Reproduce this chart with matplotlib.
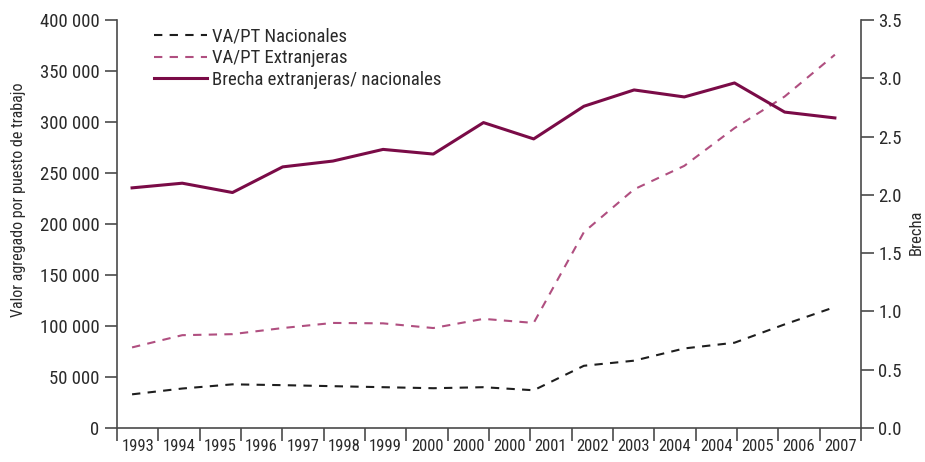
import numpy as np
import matplotlib
matplotlib.use("Agg")
import matplotlib.pyplot as plt
from matplotlib.ticker import FuncFormatter

plt.rcParams['font.family'] = ['Roboto Condensed', 'DejaVu Sans']

# data
years = np.arange(1993, 2008)
nacionales = [33000, 38700, 42800, 42000, 41000, 40000, 39000, 40000, 37000,
              61000, 66000, 78000, 83600, 101600, 118600]
extranjeras = [79000, 91000, 92000, 98000, 103000, 102600, 98000, 107000, 103000,
               192000, 234000, 257000, 294000, 325000, 366000]
brecha = [2.06, 2.10, 2.02, 2.24, 2.29, 2.39, 2.35, 2.62, 2.48,
          2.76, 2.90, 2.84, 2.96, 2.71, 2.66]
tick_labels = ['1993', '1994', '1995', '1996', '1997', '1998', '1999', '2000', '2000',
               '2000', '2001', '2002', '2003', '2004', '2004', '2005', '2006', '2007']

col_brecha = '#7a0b47'
col_ext = '#b04f80'
col_nac = '#1e1e1e'
col_axis = '#4a4a4a'
col_text = '#2a2a2a'

fig = plt.figure(figsize=(9.25, 4.62), dpi=100)
ax = fig.add_axes([0.1265, 0.0736, 0.8043, 0.8831])
ax2 = ax.twinx()

xmin, xmax = 1992.70, 2007.52
ax.set_xlim(xmin, xmax)

l1, = ax.plot(years, nacionales, ls=(0, (4, 3.5)), color=col_nac, lw=1.5,
              label='VA/PT Nacionales')
l2, = ax.plot(years, extranjeras, ls=(0, (4, 3.5)), color=col_ext, lw=1.5,
              label='VA/PT Extranjeras')
l3, = ax2.plot(years, brecha, color=col_brecha, lw=2.2,
               label='Brecha extranjeras/ nacionales')

ax.set_ylim(0, 400000)
ax.set_yticks(np.arange(0, 400001, 50000))
ax.yaxis.set_major_formatter(FuncFormatter(lambda v, p: f"{int(v):,}".replace(',', ' ')))
ax2.set_ylim(0, 3.5)
ax2.set_yticks(np.arange(0, 3.51, 0.5))
ax2.yaxis.set_major_formatter(FuncFormatter(lambda v, p: f"{v:.1f}"))

# category style x axis: 18 slots, labels in the middle of each
edges = np.linspace(xmin, xmax, len(tick_labels) + 1)
centers = (edges[:-1] + edges[1:]) / 2
ax.set_xticks(edges)
ax.set_xticklabels([''] * len(edges))
ax.set_xticks(centers, minor=True)
ax.set_xticklabels(tick_labels, minor=True)
ax.tick_params(axis='x', which='minor', length=0, pad=8, labelsize=12, colors=col_text)

for a in (ax, ax2):
    a.spines['top'].set_visible(False)
    for s in ('left', 'right', 'bottom'):
        a.spines[s].set_color(col_axis)
        a.spines[s].set_linewidth(1.2)
    a.tick_params(which='major', direction='out', length=9, width=1.2, color=col_axis,
                  labelsize=13.5, labelcolor=col_text)
ax2.spines['left'].set_visible(False)
ax2.spines['bottom'].set_visible(False)
ax.spines['right'].set_visible(False)

ax.set_ylabel('Valor agregado por puesto de trabajo', fontsize=11.5, color=col_text)
ax.yaxis.set_label_coords(-0.123, 0.56)
ax2.set_ylabel('Brecha', fontsize=12, color=col_text)
ax2.yaxis.set_label_coords(1.064, 0.48)

ax2.legend([l1, l2, l3], [l1.get_label(), l2.get_label(), l3.get_label()],
           loc='upper left', bbox_to_anchor=(0.04, 1.0), frameon=False,
           fontsize=13.5, handlelength=2.8, handletextpad=0.3, labelspacing=0.2,
           borderaxespad=0.0)
for t in ax2.get_legend().get_texts():
    t.set_color(col_text)

fig.savefig('out.png', dpi=100)
